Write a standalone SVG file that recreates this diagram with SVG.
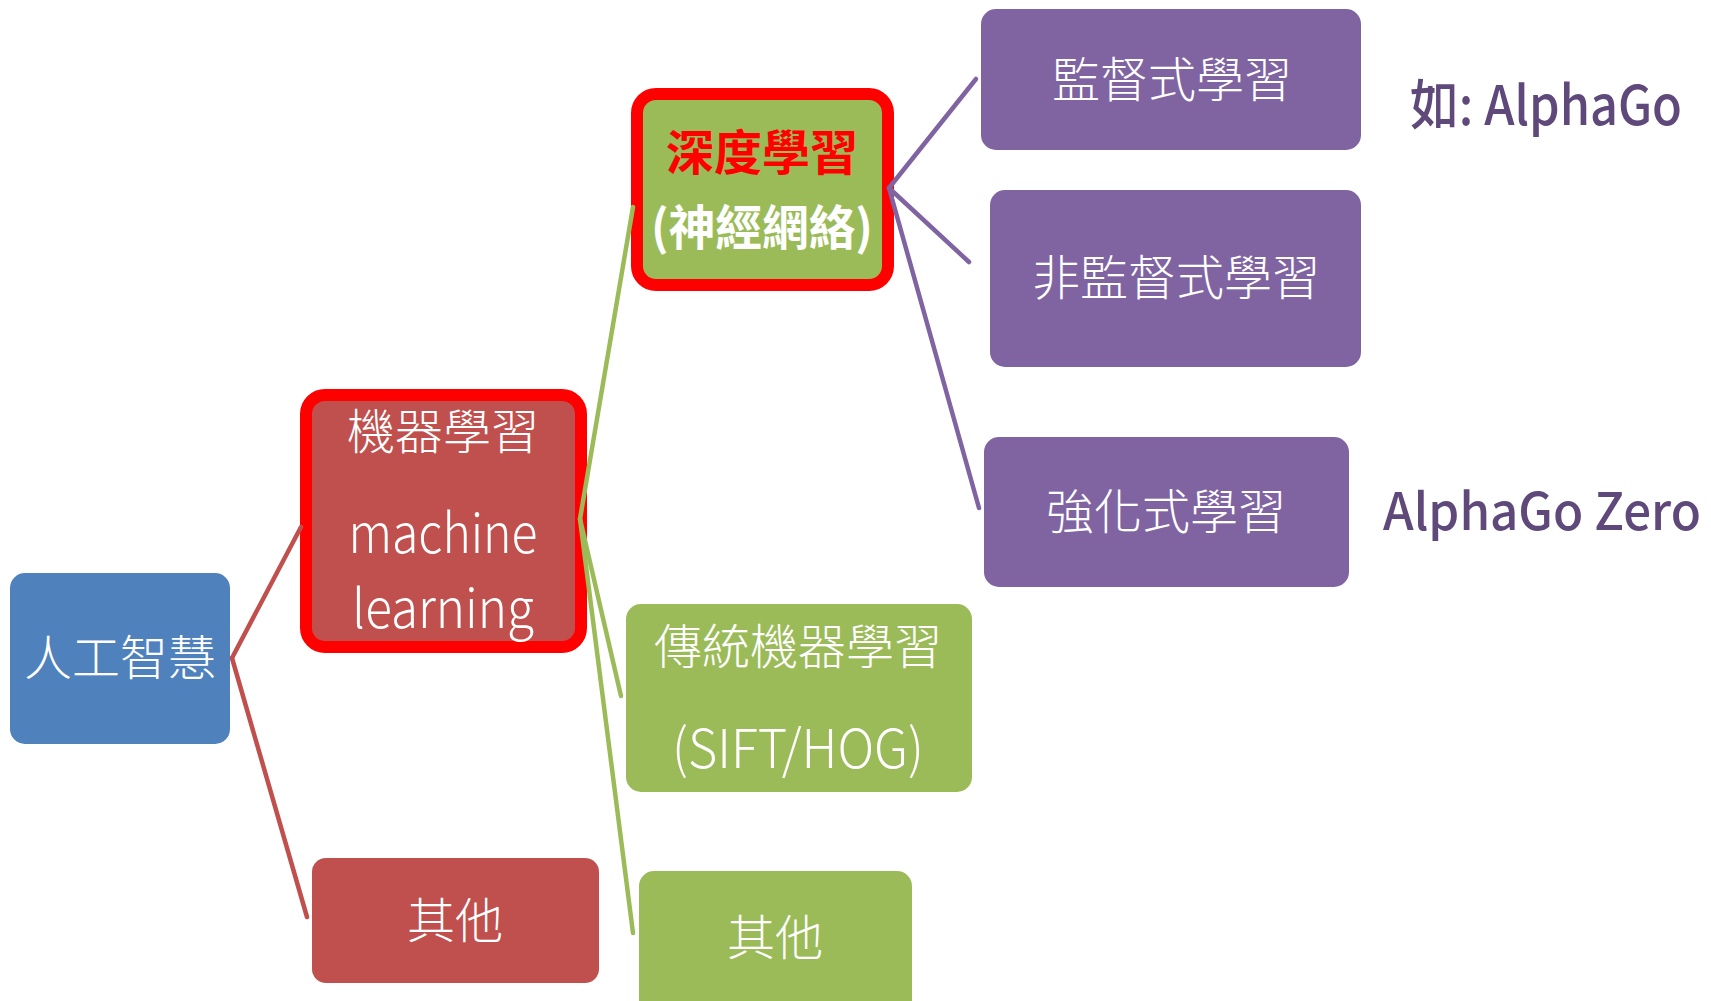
<svg xmlns="http://www.w3.org/2000/svg" width="1711" height="1001" viewBox="0 0 1711 1001">
<style>
.t{font-family:"Noto Sans CJK TC","Noto Sans",sans-serif;fill:#fff;font-weight:300;font-size:48px;text-anchor:middle}
.lat{font-size:54px}
.b{font-weight:700}
.note{font-family:"Noto Sans CJK TC","Noto Sans",sans-serif;fill:#5f497a;font-weight:500;font-size:54px}
.blue{fill:#4f81bd}
.red{fill:#c0504d}
.green{fill:#9bbb59}
.purple{fill:#8064a2}
.hl{stroke:#ff0000;stroke-width:12}
.c{fill:none;stroke-width:4.5;stroke-linecap:round}
</style>
<rect width="1711" height="1001" fill="#fff"/>
<g id="n-ai">
<rect class="blue" x="10" y="573" width="220" height="171" rx="15"/>
<text class="t" x="120" y="675">人工智慧</text>
</g>
<g id="n-ml">
<rect class="red hl" x="306" y="395" width="275" height="252" rx="19"/>
<text class="t" x="443" y="449">機器學習</text>
<text class="t lat" x="443" y="553" textLength="189" lengthAdjust="spacingAndGlyphs">machine</text>
<text class="t lat" x="443" y="628" textLength="182" lengthAdjust="spacingAndGlyphs">learning</text>
</g>
<g id="n-other1">
<rect class="red" x="312" y="858" width="287" height="125" rx="14"/>
<text class="t" x="455" y="938">其他</text>
</g>
<g id="n-dl">
<rect class="green hl" x="637" y="94" width="251" height="191" rx="19"/>
<text class="t b" x="762" y="170" style="fill:#ff0000">深度學習</text>
<text class="t b" x="762" y="245" textLength="222" lengthAdjust="spacingAndGlyphs">(神經網絡)</text>
</g>
<g id="n-trad">
<rect class="green" x="626" y="604" width="346" height="188" rx="15"/>
<text class="t" x="798" y="664">傳統機器學習</text>
<text class="t lat" x="798" y="768" textLength="252" lengthAdjust="spacingAndGlyphs">(SIFT/HOG)</text>
</g>
<g id="n-other2">
<rect class="green" x="639" y="871" width="273" height="150" rx="15"/>
<text class="t" x="775" y="955">其他</text>
</g>
<g id="n-sup">
<rect class="purple" x="981" y="9" width="380" height="141" rx="15"/>
<text class="t" x="1172" y="97">監督式學習</text>
</g>
<g id="n-unsup">
<rect class="purple" x="990" y="190" width="371" height="177" rx="15"/>
<text class="t" x="1176" y="295">非監督式學習</text>
</g>
<g id="n-rl">
<rect class="purple" x="984" y="437" width="365" height="150" rx="15"/>
<text class="t" x="1166" y="529">強化式學習</text>
</g>
<g id="notes">
<text class="note" x="1410" y="125" textLength="272" lengthAdjust="spacingAndGlyphs">如: AlphaGo</text>
<text class="note" x="1383" y="530" textLength="318" lengthAdjust="spacingAndGlyphs" style="font-size:51px">AlphaGo Zero</text>
</g>
<g id="connectors">
<g stroke="#c0504d" class="c">
<line x1="232" y1="658" x2="301" y2="527"/>
<line x1="232" y1="658" x2="307" y2="917"/>
</g>
<g stroke="#9bbb59" class="c">
<line x1="580" y1="519" x2="633" y2="207"/>
<line x1="580" y1="519" x2="621" y2="696"/>
<line x1="580" y1="519" x2="633" y2="933"/>
</g>
<g stroke="#8064a2" class="c">
<line x1="889" y1="188" x2="976" y2="79"/>
<line x1="889" y1="188" x2="969" y2="262"/>
<line x1="889" y1="188" x2="979" y2="508"/>
</g>
</g>
</svg>
